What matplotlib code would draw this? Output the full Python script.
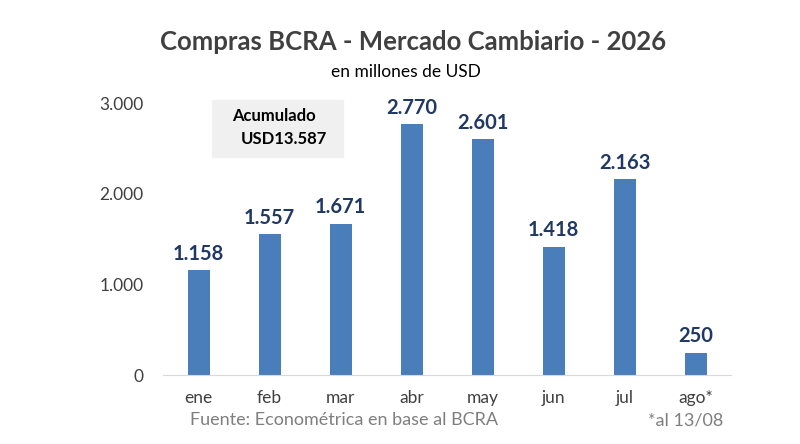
import numpy as np
import matplotlib
matplotlib.use("Agg")
import matplotlib.pyplot as plt

meses = ["ene", "feb", "mar", "abr", "may", "jun", "jul", "ago*"]
compras = [1158, 1557, 1671, 2770, 2601, 1418, 2163, 250]
yticks = [0, 1000, 2000, 3000]
ytick_labels = ["0", "1.000", "2.000", "3.000"]

plt.rcParams['font.family'] = ['Lato', 'DejaVu Sans']

fig = plt.figure(figsize=(8, 4.44), dpi=100)
ax = fig.add_axes([0.204, 0.155, 0.71, 0.6126])

x = np.arange(len(meses))
ax.bar(x, compras, width=0.31, color='#4a7ebb', zorder=2)
for xi, v in zip(x, compras):
    lab = "{:,}".format(v).replace(",", ".")
    ax.text(xi, v + 70, lab, ha='center', va='bottom', fontsize=14.5,
            fontweight='bold', color='#1f3864', clip_on=False)

ax.set_xlim(-0.5, len(meses) - 0.5)
ax.set_ylim(0, 3000)
ax.set_xticks(x)
ax.set_xticklabels(meses, fontsize=12.5, color='#404040')
ax.set_yticks(yticks)
ax.set_yticklabels(ytick_labels, fontsize=12.5, color='#404040')
ax.tick_params(axis='both', length=0)
ax.tick_params(axis='x', pad=11)
ax.tick_params(axis='y', pad=14)
for s in ['top', 'right', 'left']:
    ax.spines[s].set_visible(False)
ax.spines['bottom'].set_color('#d9d9d9')

fig.text(0.516, 0.905, "Compras BCRA - Mercado Cambiario - 2026", ha='center',
         va='center', fontsize=18.5, fontweight='bold', color='#404040')
fig.text(0.508, 0.838, "en millones de USD", ha='center', va='center',
         fontsize=12.5, color='#000000')

# recuadro acumulado
fig.patches.append(plt.Rectangle((0.265, 0.646), 0.164, 0.128,
                                 transform=fig.transFigure, color='#f0f0f0', zorder=0))
fig.text(0.343, 0.738, "Acumulado", ha='center', va='center', fontsize=12,
         fontweight='bold', color='#000000')
fig.text(0.355, 0.686, "USD13.587", ha='center', va='center', fontsize=12,
         fontweight='bold', color='#000000')

fig.text(0.238, 0.053, "Fuente: Econométrica en base al BCRA", ha='left',
         va='center', fontsize=13, color='#7f7f7f')
fig.text(0.904, 0.053, "*al 13/08", ha='right', va='center', fontsize=13,
         color='#7f7f7f')

fig.savefig("out.png", dpi=100)
